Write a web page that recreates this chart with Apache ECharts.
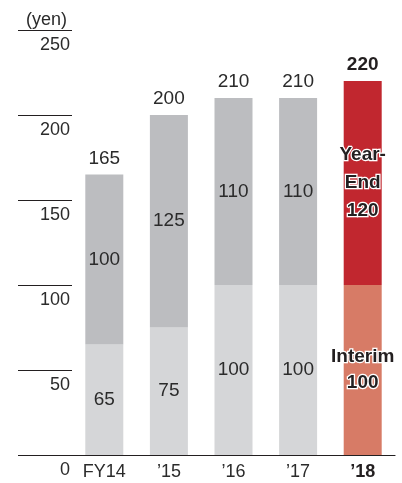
<!DOCTYPE html>
<html>
<head>
<meta charset="utf-8">
<script src="https://cdn.jsdelivr.net/npm/echarts@6/dist/echarts.min.js"></script>
<style>
html,body{margin:0;padding:0;background:#fff;}
#chart{width:402px;height:483px;}
</style>
</head>
<body>
<div id="chart"></div>
<script>
var categories = ['FY14', '\u201915', '\u201916', '\u201917', '\u201918'];
var interim = [65, 75, 100, 100, 100];
var yearEnd = [100, 125, 110, 110, 120];
var totals = [165, 200, 210, 210, 220];
var yTicks = [0, 50, 100, 150, 200, 250];

var FONT = '"Liberation Sans", Arial, Helvetica, sans-serif';
var TXT = '#2b2b2b';
var last = categories.length - 1;

var interimData = interim.map(function (v, i) {
  if (i === last) {
    return {
      value: v,
      itemStyle: { color: '#d77b66' },
      label: {
        formatter: 'Interim\n' + v,
        fontWeight: 'bold',
        color: '#231f20',
        textBorderColor: '#ffffff',
        textBorderWidth: 2.5,
        lineHeight: 26
      }
    };
  }
  return v;
});
var yearEndData = yearEnd.map(function (v, i) {
  if (i === last) {
    return {
      value: v,
      itemStyle: { color: '#c1272f' },
      label: {
        formatter: 'Year-\nEnd\n' + v,
        fontWeight: 'bold',
        color: '#231f20',
        textBorderColor: '#ffffff',
        textBorderWidth: 2.5,
        lineHeight: 28
      }
    };
  }
  return v;
});
var totalData = totals.map(function (v, i) {
  if (i === last) {
    return { value: v, label: { fontWeight: 'bold', color: '#231f20' } };
  }
  return v;
});

var chart = echarts.init(document.getElementById('chart'), null, { renderer: 'canvas' });
chart.setOption({
  animation: false,
  textStyle: { fontFamily: FONT },
  title: {
    text: '(yen)',
    left: 21,
    top: 6,
    textStyle: { fontFamily: FONT, fontSize: 18, fontWeight: 'normal', color: TXT }
  },
  grid: { left: 72, right: 7, top: 30, bottom: 28, containLabel: false },
  xAxis: {
    type: 'category',
    data: categories,
    axisLine: { show: true, lineStyle: { color: '#231f20', width: 1.2 } },
    axisTick: { show: false },
    axisLabel: {
      interval: 0,
      margin: 8,
      fontSize: 18,
      color: TXT,
      fontFamily: FONT,
      formatter: function (v) { return v === categories[last] ? '{b|' + v + '}' : v; },
      rich: { b: { fontWeight: 'bold', fontSize: 18, color: '#231f20', fontFamily: FONT } }
    }
  },
  yAxis: {
    type: 'value',
    min: yTicks[0],
    max: yTicks[yTicks.length - 1],
    interval: 50,
    axisLine: { show: false },
    splitLine: { show: false },
    axisTick: { show: true, inside: false, length: 54, lineStyle: { color: '#231f20', width: 1.2 } },
    axisLabel: {
      margin: 2,
      fontSize: 18,
      color: TXT,
      fontFamily: FONT,
      verticalAlign: 'top',
      padding: [6, 0, 0, 0]
    }
  },
  series: [
    {
      name: 'Interim',
      type: 'bar',
      stack: 'div',
      barWidth: 38,
      itemStyle: { color: '#d5d6d8' },
      label: { show: true, position: 'inside', fontSize: 19, color: TXT, fontFamily: FONT },
      data: interimData
    },
    {
      name: 'Year-End',
      type: 'bar',
      stack: 'div',
      barWidth: 38,
      itemStyle: { color: '#bcbdc0' },
      label: { show: true, position: 'inside', fontSize: 19, color: TXT, fontFamily: FONT },
      data: yearEndData
    },
    {
      name: 'Total',
      type: 'scatter',
      symbolSize: 1,
      itemStyle: { color: 'rgba(0,0,0,0)', opacity: 1 },
      label: { show: true, position: 'top', distance: 6, fontSize: 19, color: TXT, fontFamily: FONT },
      data: totalData,
      z: 5
    }
  ]
});
</script>
</body>
</html>
